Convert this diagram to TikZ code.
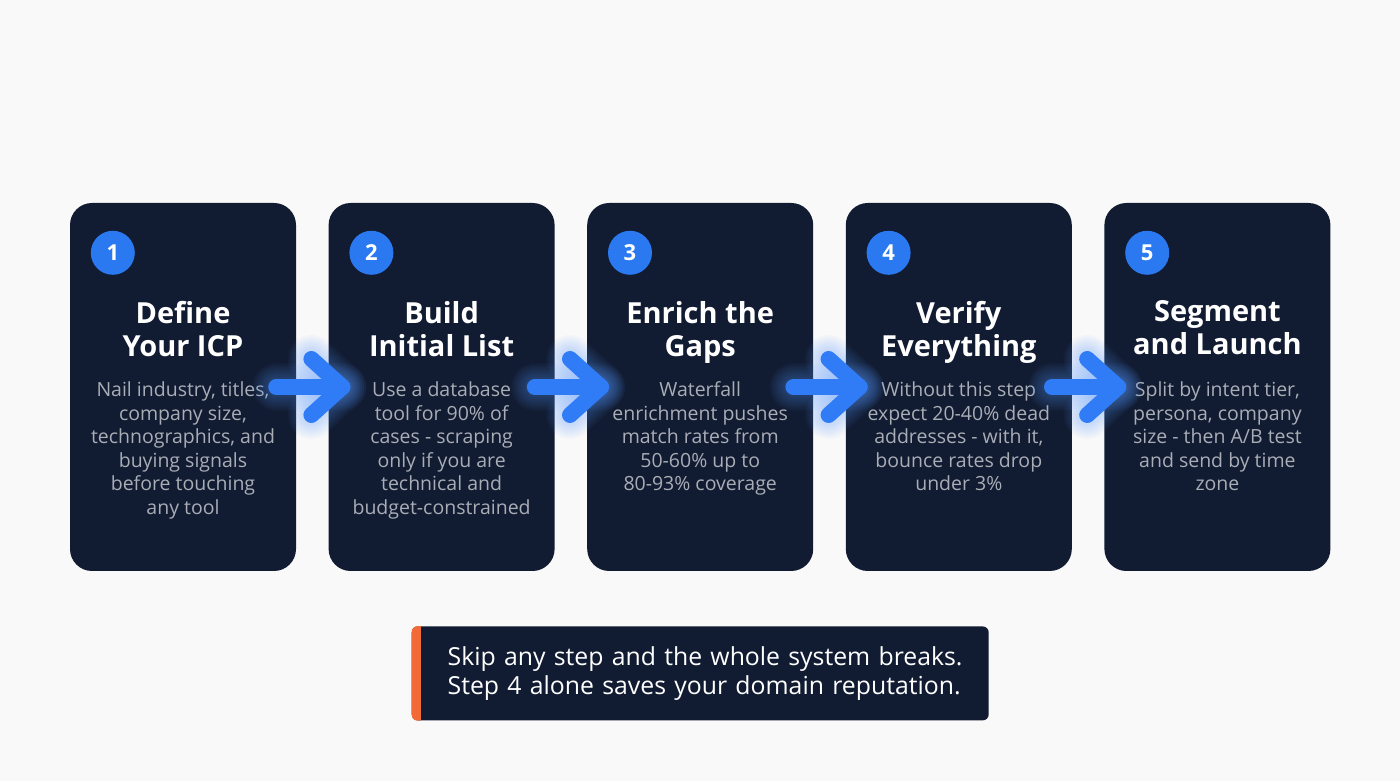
\documentclass[tikz,border=0pt]{standalone}
\usepackage{fontspec}
\setmainfont{Open Sans}
\usetikzlibrary{positioning,calc,backgrounds}

\definecolor{pagebg}{HTML}{F9F9F9}
\definecolor{navy}{HTML}{111B31}
\definecolor{badgeblue}{HTML}{2B79F1}
\definecolor{arrowblue}{HTML}{2F7CF6}
\definecolor{glowblue}{HTML}{5B9BFF}
\definecolor{bodygray}{HTML}{A9ADB6}
\definecolor{accent}{HTML}{F26A36}

\begin{document}
\begin{tikzpicture}[
        x=1pt, y=1pt,
        node distance=32.2pt,
        card/.style={rectangle, rounded corners=22pt, fill=navy, minimum width=226pt, minimum height=368pt, inner sep=0pt},
        badge/.style={circle, fill=badgeblue, text=white, minimum size=44pt, inner sep=0pt, font=\fontsize{22}{22}\selectfont\bfseries},
        ttl/.style={text=white, align=center, inner sep=0pt, font=\fontsize{29}{33}\selectfont\bfseries},
        txt/.style={text=bodygray, align=center, inner sep=0pt, font=\fontsize{19.5}{23.5}\selectfont},
        note/.style={rectangle, rounded corners=6pt, fill=navy, text=white, align=left, text width=505pt, inner xsep=36pt, minimum height=94pt, font=\fontsize{24.8}{29}\selectfont},
        flow/.style={arrowblue, line width=16pt, line cap=round, line join=round},
        glow/.style={glowblue, line cap=round, line join=round, opacity=0.045}
    ]
        \fill[pagebg] (0,0) rectangle (1400,781);
        \useasboundingbox (0,0) rectangle (1400,781);

        % cards
        \node[card] (c1) at (183,394) {};
        \node[card, right=of c1] (c2) {};
        \node[card, right=of c2] (c3) {};
        \node[card, right=of c3] (c4) {};
        \node[card, right=of c4] (c5) {};

        % soft shadows
        \begin{scope}[on background layer]
            \foreach \c in {c1,c2,c3,c4,c5}
                \foreach \k in {2,4,...,12}
                    \fill[black, opacity=0.025, rounded corners=24pt] ($(\c.south west)+(-\k/2,-\k)$) rectangle ($(\c.north east)+(\k/2,-\k)$);
        \end{scope}

        % step numbers
        \node[badge] (b1) at ($(c1.north west)+(43,-50)$) {1};
        \node[badge] (b2) at ($(c2.north west)+(43,-50)$) {2};
        \node[badge] (b3) at ($(c3.north west)+(43,-50)$) {3};
        \node[badge] (b4) at ($(c4.north west)+(43,-50)$) {4};
        \node[badge] (b5) at ($(c5.north west)+(43,-50)$) {5};

        % titles
        \node[ttl, below=98pt of c1.north] (t1) {Define\\Your ICP};
        \node[ttl, below=98pt of c2.north] (t2) {Build\\Initial List};
        \node[ttl, below=98pt of c3.north] (t3) {Enrich the\\Gaps};
        \node[ttl, below=98pt of c4.north] (t4) {Verify\\Everything};
        \node[ttl, below=98pt of c5.north] (t5) {Segment\\and Launch};

        % descriptions
        \node[txt, below=179pt of c1.north] (d1) {Nail industry, titles,\\company size,\\technographics, and\\buying signals\\before touching\\any tool};
        \node[txt, below=179pt of c2.north] (d2) {Use a database\\tool for 90\% of\\cases - scraping\\only if you are\\technical and\\budget-constrained};
        \node[txt, below=179pt of c3.north] (d3) {Waterfall\\enrichment pushes\\match rates from\\50-60\% up to\\80-93\% coverage};
        \node[txt, below=179pt of c4.north] (d4) {Without this step\\expect 20-40\% dead\\addresses - with it,\\bounce rates drop\\under 3\%};
        \node[txt, below=179pt of c5.north] (d5) {Split by intent tier,\\persona, company\\size - then A/B test\\and send by time\\zone};

        % arrows between cards
        \foreach \a/\b in {c1/c2,c2/c3,c3/c4,c4/c5} {
            \foreach \w in {20,24,...,48} {
                \draw[glow, line width=\w pt] ($(\a.east)+(-20,0)$) -- ($(\b.west)+(14,0)$);
                \draw[glow, line width=\w pt] ($(\b.west)+(-17,28)$) -- ($(\b.west)+(14,0)$) -- ($(\b.west)+(-17,-28)$);
            }
            \draw[flow] ($(\a.east)+(-20,0)$) -- ($(\b.west)+(14,0)$);
            \draw[flow] ($(\b.west)+(-17,28)$) -- ($(\b.west)+(14,0)$) -- ($(\b.west)+(-17,-28)$);
        }

        % takeaway
        \node[note, below=55pt of c3] (n) {\mbox{Skip any step and the whole system breaks.}\\\mbox{Step 4 alone saves your domain reputation.}};
        \begin{scope}
            \clip[rounded corners=6pt] (n.south west) rectangle (n.north east);
            \fill[accent] (n.south west) rectangle ($(n.north west)+(9,0)$);
        \end{scope}
    \end{tikzpicture}
\end{document}
